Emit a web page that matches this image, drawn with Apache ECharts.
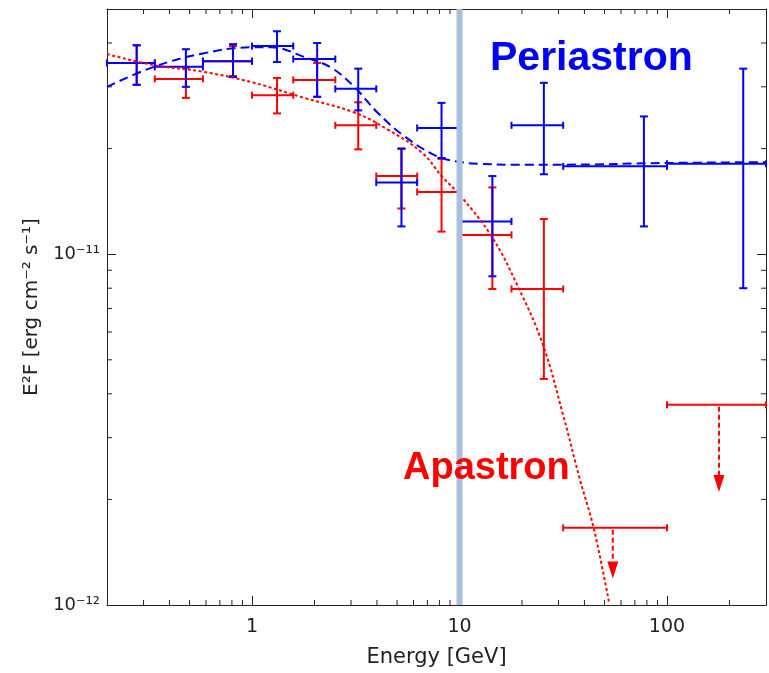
<!DOCTYPE html>
<html>
<head>
<meta charset="utf-8">
<script src="https://cdn.jsdelivr.net/npm/echarts@6/dist/echarts.min.js"></script>
<style>
  html, body { margin: 0; padding: 0; background: #fff; }
  #chart { width: 769px; height: 673px; }
</style>
</head>
<body>
<div id="chart"></div>
<script>
// energy bins [GeV]
var binLow   = [0.2, 0.34, 0.58, 1.0, 1.58, 2.52, 3.97, 6.25, 10, 17.8, 31.6, 100];
var binHigh  = [0.34, 0.58, 1.0, 1.58, 2.52, 3.97, 6.25, 10, 17.8, 31.6, 100, 300];
var binCenter = [0.278, 0.48, 0.81, 1.32, 2.06, 3.25, 5.25, 8.19, 14.4, 25.5, 77.4, 233];

// periastron (blue) fluxes [erg cm-2 s-1]
var periFlux = [35.1e-12, 34.2e-12, 35.5e-12, 39.2e-12, 36.0e-12, 29.6e-12, 16.0e-12, 22.9e-12, 12.4e-12, 23.3e-12, 17.8e-12, 18.1e-12];
var periLow  = [30.4e-12, 30.0e-12, 32.0e-12, 35.3e-12, 28.1e-12, 25.7e-12, 12.0e-12, 18.8e-12, 8.65e-12, 16.9e-12, 12.0e-12, 8.0e-12];
var periHigh = [39.4e-12, 38.4e-12, 39.7e-12, 43.2e-12, 40.0e-12, 33.8e-12, 20.0e-12, 27.0e-12, 16.7e-12, 30.8e-12, 24.7e-12, 33.8e-12];

// apastron (red) fluxes, first 10 bins
var apaFlux = [35.1e-12, 31.6e-12, 35.5e-12, 28.4e-12, 31.4e-12, 23.3e-12, 16.7e-12, 15.05e-12, 11.35e-12, 7.96e-12];
var apaLow  = [30.4e-12, 27.9e-12, 32.2e-12, 25.2e-12, 28.1e-12, 19.9e-12, 13.5e-12, 11.6e-12, 7.96e-12, 4.41e-12];
var apaHigh = [39.4e-12, 34.0e-12, 39.2e-12, 31.8e-12, 35.1e-12, 27.1e-12, 20.0e-12, 18.7e-12, 15.5e-12, 12.6e-12];

// apastron upper limits (last 2 bins)
var limitEnergy = [54.8, 178];
var limitLow    = [31.6, 100];
var limitHigh   = [100, 300];
var limitFlux   = [1.66e-12, 3.72e-12];
var limitTip    = [1.19e-12, 2.10e-12];

// model curves
var periCurveE = [0.2, 0.336, 0.586, 1.022, 1.235, 1.783, 2.408, 3.11, 4.02, 5.42, 7.83, 10.2, 12.5, 18.0, 31.5, 100, 300];
var periCurveF = [30.0e-12, 34.2e-12, 37.4e-12, 38.9e-12, 38.9e-12, 36.5e-12, 34.0e-12, 30.0e-12, 25.35e-12, 21.7e-12, 19.0e-12, 18.3e-12, 18.1e-12, 18.0e-12, 18.0e-12, 18.2e-12, 18.3e-12];
var apaCurveE = [0.2, 0.336, 0.586, 1.022, 1.783, 3.11, 4.49, 6.55, 8.28, 10.2, 14.28, 19.06, 25.2, 31.45, 38.0, 44.4, 52.5];
var apaCurveF = [37.2e-12, 34.6e-12, 33.1e-12, 30.8e-12, 27.9e-12, 25.35e-12, 22.7e-12, 19.54e-12, 16.6e-12, 14.58e-12, 11.24e-12, 8.12e-12, 5.53e-12, 3.51e-12, 2.285e-12, 1.65e-12, 1.02e-12];

var bandEnergy = 10;

// axis ranges and minor ticks
var xMin = 0.2, xMax = 300, yMin = 1e-12, yMax = 5e-11;
var xMinorTicks = [0.3, 0.4, 0.5, 0.6, 0.7, 0.8, 0.9, 2, 3, 4, 5, 6, 7, 8, 9, 20, 30, 40, 50, 60, 70, 80, 90, 200];
var yMinorTicks = [2e-12, 3e-12, 4e-12, 5e-12, 6e-12, 7e-12, 8e-12, 9e-12, 2e-11, 3e-11, 4e-11];

var BLUE = '#0000ff', RED = '#ff0000', INK = '#222';
var FONT = 'DejaVu Sans';

var chart = echarts.init(document.getElementById('chart'));

var sup = { '-': '\u207b', '0': '\u2070', '1': '\u00b9', '2': '\u00b2', '3': '\u00b3', '4': '\u2074', '5': '\u2075', '6': '\u2076', '7': '\u2077', '8': '\u2078', '9': '\u2079' };
function isDecade(v) {
  var l = Math.log10(v);
  return Math.abs(l - Math.round(l)) < 1e-6;
}
function powerLabel(v) {
  if (!isDecade(v)) return '';
  var p = String(Math.round(Math.log10(v)));
  return '10' + p.split('').map(function (c) { return sup[c]; }).join('');
}

function seg(x1, y1, x2, y2, style) {
  return { type: 'line', shape: { x1: x1, y1: y1, x2: x2, y2: y2 }, style: style };
}

function errorBars(color) {
  return function (params, api) {
    var e = api.value(0), f = api.value(1);
    var l = api.coord([api.value(2), f]);
    var r = api.coord([api.value(3), f]);
    var b = api.coord([e, api.value(4)]);
    var t = api.coord([e, api.value(5)]);
    var s = { stroke: color, lineWidth: 2 };
    return {
      type: 'group',
      children: [
        seg(l[0], l[1], r[0], r[1], s),
        seg(t[0], t[1], b[0], b[1], s),
        seg(l[0], l[1] - 3.5, l[0], l[1] + 3.5, s),
        seg(r[0], r[1] - 3.5, r[0], r[1] + 3.5, s),
        seg(t[0] - 4, t[1], t[0] + 4, t[1], s),
        seg(b[0] - 4, b[1], b[0] + 4, b[1], s)
      ]
    };
  };
}

function upperLimit(params, api) {
  var f = api.value(1);
  var l = api.coord([api.value(2), f]);
  var r = api.coord([api.value(3), f]);
  var start = api.coord([api.value(0), f]);
  var tip = api.coord([api.value(0), api.value(4)]);
  var s = { stroke: RED, lineWidth: 2 };
  var head = 17;
  return {
    type: 'group',
    children: [
      seg(l[0], l[1], r[0], r[1], s),
      seg(l[0], l[1] - 3.5, l[0], l[1] + 3.5, s),
      seg(r[0], r[1] - 3.5, r[0], r[1] + 3.5, s),
      seg(start[0], start[1] + 2, tip[0], tip[1] - head, { stroke: RED, lineWidth: 2, lineDash: [5, 3] }),
      { type: 'polygon', shape: { points: [[tip[0] - 5.5, tip[1] - head], [tip[0] + 5.5, tip[1] - head], [tip[0], tip[1]]] }, style: { fill: RED } }
    ]
  };
}

function xMinor(params, api) {
  var b = api.coord([api.value(0), yMin]);
  var t = api.coord([api.value(0), yMax]);
  var s = { stroke: INK, lineWidth: 1 };
  return { type: 'group', children: [seg(b[0], b[1], b[0], b[1] - 5, s), seg(t[0], t[1], t[0], t[1] + 5, s)] };
}
function yMinor(params, api) {
  var l = api.coord([xMin, api.value(1)]);
  var r = api.coord([xMax, api.value(1)]);
  var s = { stroke: INK, lineWidth: 1 };
  return { type: 'group', children: [seg(l[0], l[1], l[0] + 5, l[1], s), seg(r[0], r[1], r[0] - 5, r[1], s)] };
}

function pairs(xs, ys) {
  return xs.map(function (x, i) { return [x, ys[i]]; });
}

var periData = binCenter.map(function (e, i) {
  return [e, periFlux[i], binLow[i], binHigh[i], periLow[i], periHigh[i]];
});
var apaData = apaFlux.map(function (f, i) {
  return [binCenter[i], f, binLow[i], binHigh[i], apaLow[i], apaHigh[i]];
});
var limitData = limitEnergy.map(function (e, i) {
  return [e, limitFlux[i], limitLow[i], limitHigh[i], limitTip[i]];
});

var axisLine = { show: true, lineStyle: { color: INK, width: 1 } };
var majorTick = { show: true, inside: true, length: 9, lineStyle: { color: INK, width: 1 } };

var option = {
  animation: false,
  backgroundColor: '#fff',
  grid: { left: 107, right: 3, top: 9, bottom: 63 },
  xAxis: [{
    type: 'log', min: xMin, max: xMax, position: 'bottom',
    name: 'Energy [GeV]', nameLocation: 'middle', nameGap: 42,
    nameTextStyle: { color: INK, fontSize: 21, fontFamily: FONT },
    axisLine: axisLine, axisTick: majorTick, splitLine: { show: false },
    axisLabel: { color: INK, fontSize: 19, fontFamily: FONT, margin: 13,
      formatter: function (v) { return isDecade(v) ? String(Math.round(v)) : ''; } }
  }, {
    type: 'log', min: xMin, max: xMax, position: 'top',
    axisLine: axisLine, axisTick: majorTick, splitLine: { show: false },
    axisLabel: { show: false }
  }],
  yAxis: [{
    type: 'log', min: yMin, max: yMax, position: 'left',
    name: 'E\u00b2F [erg cm\u207b\u00b2 s\u207b\u00b9]', nameLocation: 'middle', nameGap: 58,
    nameTextStyle: { color: INK, fontSize: 20, fontFamily: FONT },
    axisLine: axisLine, axisTick: majorTick, splitLine: { show: false },
    axisLabel: { color: INK, fontSize: 18, fontFamily: FONT, margin: 7, formatter: powerLabel }
  }, {
    type: 'log', min: yMin, max: yMax, position: 'right',
    axisLine: axisLine, axisTick: majorTick, splitLine: { show: false },
    axisLabel: { show: false }
  }],
  series: [
    {
      name: 'apastron model', type: 'line', smooth: 0.4, showSymbol: false, silent: true,
      data: pairs(apaCurveE, apaCurveF),
      lineStyle: { color: RED, width: 2, type: [3, 2.5] }
    },
    {
      name: 'periastron model', type: 'line', smooth: 0.4, showSymbol: false, silent: true,
      data: pairs(periCurveE, periCurveF),
      lineStyle: { color: BLUE, width: 2, type: [9, 5] }
    },
    { name: 'apastron', type: 'custom', renderItem: errorBars(RED), data: apaData, encode: { x: 0, y: 1 }, silent: true },
    { name: 'apastron UL', type: 'custom', renderItem: upperLimit, data: limitData, encode: { x: 0, y: 1 }, silent: true },
    { name: 'periastron', type: 'custom', renderItem: errorBars(BLUE), data: periData, encode: { x: 0, y: 1 }, silent: true },
    {
      name: 'band', type: 'line', showSymbol: false, silent: true,
      data: [[bandEnergy, yMin], [bandEnergy, yMax]],
      lineStyle: { color: '#a9c0dd', width: 6 }
    },
    { type: 'custom', renderItem: xMinor, data: xMinorTicks.map(function (v) { return [v, yMin]; }), encode: { x: 0, y: 1 }, silent: true },
    { type: 'custom', renderItem: yMinor, data: yMinorTicks.map(function (v) { return [xMin, v]; }), encode: { x: 0, y: 1 }, silent: true }
  ],
  graphic: [
    { type: 'text', x: 490, y: 59, z: 100,
      style: { text: 'Periastron', fill: BLUE, font: 'bold 41px "Liberation Sans"', textAlign: 'left', textVerticalAlign: 'middle' } },
    { type: 'text', x: 403, y: 469, z: 100,
      style: { text: 'Apastron', fill: RED, font: 'bold 38px "Liberation Sans"', textAlign: 'left', textVerticalAlign: 'middle' } }
  ]
};

chart.setOption(option);
</script>
</body>
</html>
